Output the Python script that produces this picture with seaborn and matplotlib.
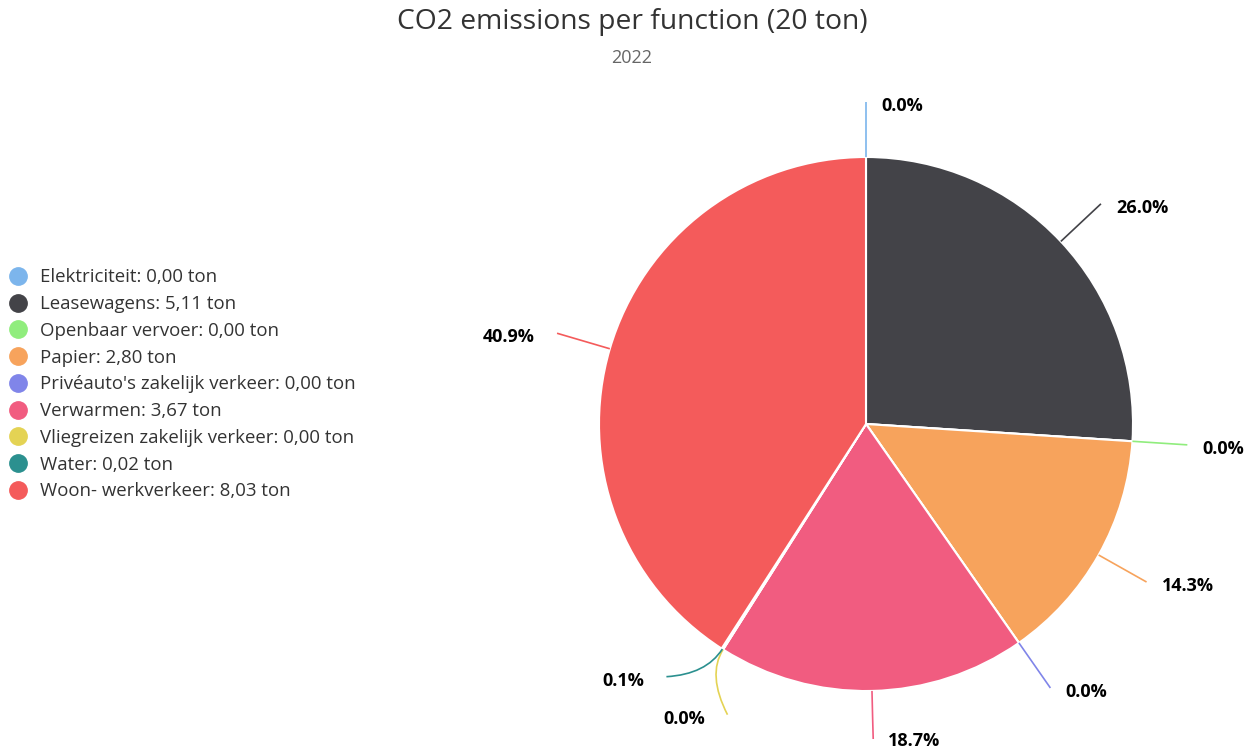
import numpy as np
import matplotlib
matplotlib.use("Agg")
import matplotlib.pyplot as plt
from matplotlib.lines import Line2D
from matplotlib.path import Path
from matplotlib.patches import PathPatch
import seaborn as sns

# data
categories = ["Elektriciteit", "Leasewagens", "Openbaar vervoer", "Papier",
              "Privéauto's zakelijk verkeer", "Verwarmen",
              "Vliegreizen zakelijk verkeer", "Water", "Woon- werkverkeer"]
emissions = [0.00, 5.11, 0.00, 2.80, 0.00, 3.67, 0.00, 0.02, 8.03]
slice_colors = ["#7cb5ec", "#434348", "#90ed7d", "#f7a35c", "#8085e9",
                "#f15c80", "#e4d354", "#2b908f", "#f45b5b"]
title = "CO2 emissions per function (20 ton)"
subtitle = "2022"

sns.set_theme(style="white")
plt.rcParams["font.family"] = ["Open Sans", "DejaVu Sans"]

W, H = 1251, 753
fig = plt.figure(figsize=(W / 100, H / 100), dpi=100)
ax = fig.add_axes([0, 0, 1, 1])

# pie geometry in pixel units
cx, cy, r = 866, H - 424, 267
palette = sns.color_palette(slice_colors)
wedges, _ = ax.pie(emissions, colors=palette, startangle=90, counterclock=False,
                   center=(cx, cy), radius=r,
                   wedgeprops=dict(edgecolor="white", linewidth=1.5))
ax.set_xlim(0, W)
ax.set_ylim(0, H)
ax.set_aspect("equal")
ax.axis("off")

# data labels with curved connectors
total = sum(emissions)
R = r + 55
labels = []
for w, v, c in zip(wedges, emissions, palette):
    mid = np.deg2rad((w.theta1 + w.theta2) / 2)
    right = np.cos(mid) >= -1e-9
    labels.append(dict(mid=mid, right=right, color=c,
                       y=cy + R * np.sin(mid),
                       text=f"{v / total * 100:.1f}%"))

# push overlapping labels apart on each side
gap = 38
for side in (True, False):
    group = sorted([l for l in labels if l["right"] == side], key=lambda l: -l["y"])
    for _ in range(20):
        for a, b in zip(group, group[1:]):
            diff = a["y"] - b["y"]
            if diff < gap:
                shift = (gap - diff) / 2
                a["y"] += shift
                b["y"] -= shift

for l in labels:
    mid = l["mid"]
    sign = 1 if l["right"] else -1
    dy = l["y"] - cy
    ex = cx + sign * np.sqrt(max(R ** 2 - dy ** 2, 0))
    ey = max(l["y"], 14)
    p0 = (cx + r * np.cos(mid), cy + r * np.sin(mid))
    p1 = (cx + (r + 30) * np.cos(mid), cy + (r + 30) * np.sin(mid))
    path = Path([p0, p1, (ex, ey)], [Path.MOVETO, Path.CURVE3, Path.CURVE3])
    ax.add_patch(PathPatch(path, fill=False, edgecolor=l["color"], linewidth=1.2))
    pad = 15 if l["right"] else 22
    ax.text(ex + sign * pad, max(ey - 4, 12), l["text"], ha="left" if l["right"] else "right",
            va="center", fontsize=13, fontweight="bold", color="black")

# legend
handles = [Line2D([], [], marker="o", linestyle="", markersize=12.5,
                  markerfacecolor=c, markeredgecolor=c) for c in palette]
legend_labels = [f"{cat}: {v:.2f} ton".replace(".", ",") for cat, v in zip(categories, emissions)]
fig.legend(handles, legend_labels, loc="upper left", bbox_to_anchor=(-2 / W, 1 - 259 / H),
           frameon=False, fontsize=13.4, labelspacing=0.47, handletextpad=0.65,
           handlelength=1.1, borderpad=0, labelcolor="#333333")

fig.text(632 / W, 1 - 22 / H, title, ha="center", va="center", fontsize=20.3, color="#333333")
fig.text(632 / W, 1 - 58 / H, subtitle, ha="center", va="center", fontsize=13, color="#666666")

fig.savefig("out.png", dpi=100)
